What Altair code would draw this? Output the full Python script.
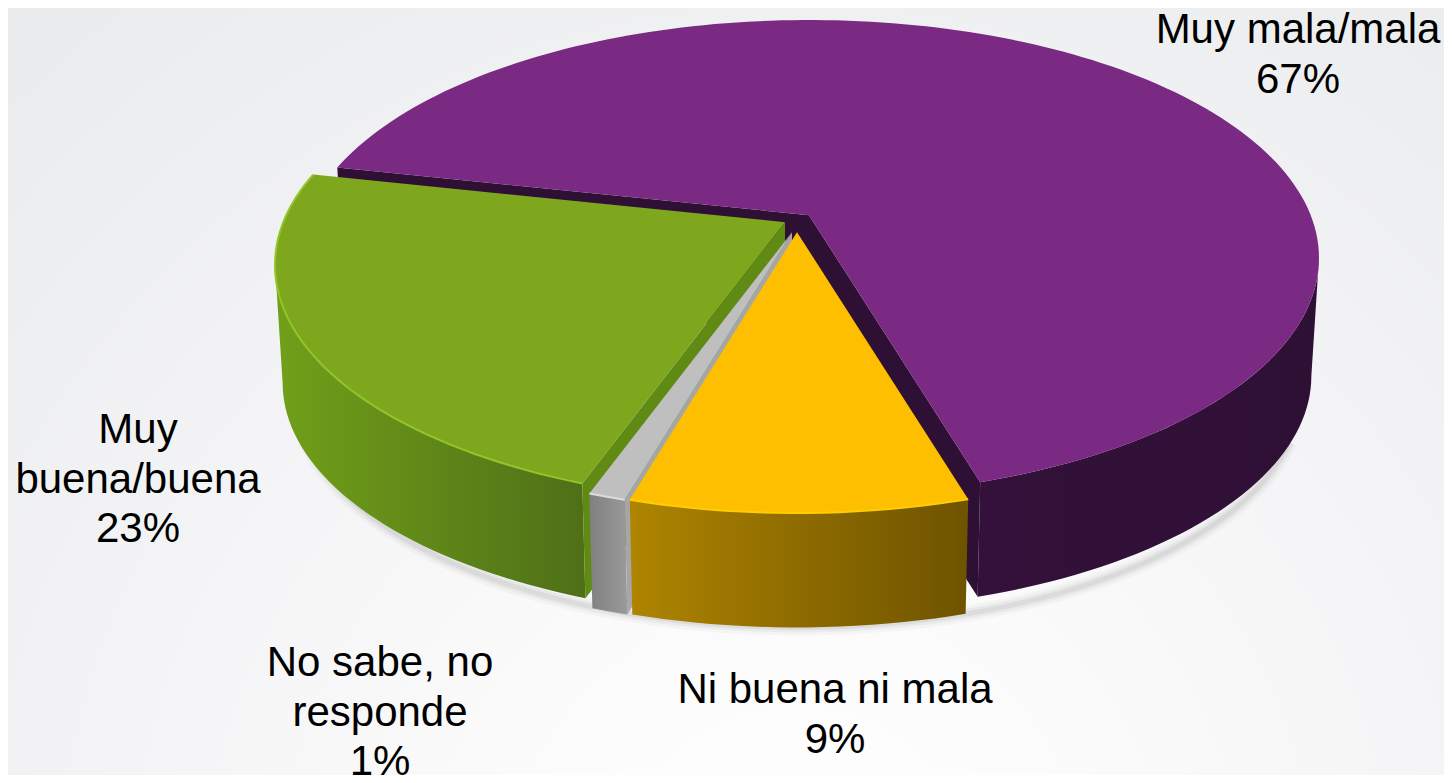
import math
import altair as alt

# ---- data ----
categories = ["Muy mala/mala", "Ni buena ni mala", "No sabe, no responde", "Muy buena/buena"]
shares = [67, 9, 1, 23]
label_texts = ["Muy mala/mala", "Ni buena ni mala", "No sabe, no\nresponde", "Muy\nbuena/buena"]

# ---- styles and geometry ----
W, H = 1436, 767
A, B = 510.0, 238.0           # semi axes of the top rim
CX, CY = 808.0 - 8, 258.0 - 8
K = 0.18                      # perspective shift of the pie centre
DROP = 118.0                  # pie thickness
BOTTOM = 0.985                # bottom rim is slightly smaller
START = 282.4                 # clock angle of the first slice
SILHOUETTE = math.degrees(math.asin(K))

style = {
    "Muy mala/mala": dict(off=(1, 0), top="#7b2a83", cut="#2f1035",
                          wall=("#33113a", "#2f1035"), rim=None, cuts="both",
                          label=(1298, 30)),
    "Ni buena ni mala": dict(off=(-11, 17), top="#fdbf00", cut="#a87f00",
                             wall=("#ae8400", "#6e5300"), rim="#ffcd00", cuts="none",
                             label=(835, 690)),
    "No sabe, no responde": dict(off=(-16, 17), top="#bfbfbf", cut="#a6a6a6",
                                 wall=("#808080", "#9a9a9a"), rim="#dcdcdc", cuts="start",
                                 label=(380, 663)),
    "Muy buena/buena": dict(off=(-23, 7), top="#7ea71e", cut="#5f8a14",
                            wall=("#71a019", "#4f6f18"), rim="#93c52a", cuts="start",
                            label=(138, 430)),
}
draw_order = ["Muy mala/mala", "Muy buena/buena", "No sabe, no responde", "Ni buena ni mala"]


def disc_point(clock):
    """Point of the unit circle seen in perspective, clock angle in degrees."""
    t = math.radians(clock)
    X, Y = math.sin(t), -math.cos(t)
    den = 1 - K * Y
    return X * math.sqrt(1 - K * K) / den, (Y - K) / den


def to_unit(u, v, off, scale=1.0, drop=0.0):
    return [(u * A * scale + off[0]) / A, (v * B * scale + off[1] + drop) / A]


def arc(a0, a1, off, scale=1.0, drop=0.0):
    n = max(2, int(abs(a1 - a0) / 1.5))
    return [to_unit(*disc_point(a0 + (a1 - a0) * i / n), off, scale, drop) for i in range(n + 1)]


def apex(off, scale=1.0, drop=0.0):
    return to_unit(0.0, -K, off, scale, drop)


def front_range(a0, a1):
    """Part of the rim that faces the viewer: between the two silhouette points."""
    lo, hi = 90 + SILHOUETTE, 270 - SILHOUETTE
    shift = 360 if a0 > hi else 0
    return max(a0, lo + shift), min(a1, hi + shift)


def feature(kind, coords):
    return {"type": "Feature", "properties": {}, "geometry": {"type": kind, "coordinates": coords}}


def shape(feat, **mark):
    return (alt.Chart(alt.InlineData(values=[feat])).mark_geoshape(**mark)
            .project(type="identity", scale=A, translate=[CX, CY]))


def polygon(ring):
    return feature("Polygon", [ring + [ring[0]]])


def linear(c0, c1):
    return alt.Gradient(gradient="linear", x1=0, x2=1, y1=0, y2=0,
                        stops=[alt.GradientStop(color=c0, offset=0), alt.GradientStop(color=c1, offset=1)])


# slice angles come from the shares, clockwise from START
angles = {}
a = START
for c, s in zip(categories, shares):
    angles[c] = (a, a + s * 3.6)
    a += s * 3.6

layers = []

# backdrop
layers.append(
    alt.Chart(alt.InlineData(values=[{"a": 1}])).mark_rect(
        fill=alt.Gradient(gradient="radial", x1=0.55, y1=0.85, x2=0.55, y2=0.85, r1=0, r2=0.85,
                          stops=[alt.GradientStop(color="#ffffff", offset=0),
                                 alt.GradientStop(color="#fbfbfc", offset=0.25),
                                 alt.GradientStop(color="#e9eaec", offset=1)])
    ).encode(x=alt.value(0), x2=alt.value(W), y=alt.value(0), y2=alt.value(H))
)

# soft shadow under the front rim
for width, op in [(16, 0.04), (10, 0.06), (5, 0.09)]:
    layers.append(shape(feature("LineString", arc(112, 250, (-10, 16), BOTTOM, DROP + 1)),
                        filled=False, stroke="#555555", strokeWidth=width, strokeOpacity=op))

for c in draw_order:
    st = style[c]
    a0, a1 = angles[c]
    off = st["off"]
    top_arc = arc(a0, a1, off)
    # outer wall, running out to the silhouette of the drum
    f0, f1 = front_range(a0, a1)
    layers.append(shape(polygon(arc(f0, f1, off) + arc(f0, f1, off, BOTTOM, DROP)[::-1]),
                        fill=linear(*st["wall"])))
    # cut faces
    for which, flag in ((a0, "start"), (a1, "end")):
        if st["cuts"] in (flag, "both"):
            ring = [apex(off), arc(which, which, off)[0], arc(which, which, off, BOTTOM, DROP)[0],
                    apex(off, BOTTOM, DROP)]
            layers.append(shape(polygon(ring), fill=st["cut"]))
    # top face
    layers.append(shape(polygon([apex(off)] + top_arc), fill=st["top"]))
    # bright edge of the bevel
    if st["rim"]:
        layers.append(shape(feature("LineString", top_arc), filled=False,
                            stroke=st["rim"], strokeWidth=2))

# labels
for c, s, t in zip(categories, shares, label_texts):
    lx, ly = style[c]["label"]
    layers.append(
        alt.Chart(alt.InlineData(values=[{"t": f"{t}\n{s}%"}])).mark_text(
            font="Liberation Sans", fontSize=42, color="#000000", align="center",
            baseline="middle", lineBreak="\n", lineHeight=49.5
        ).encode(text="t:N", x=alt.value(lx - 8), y=alt.value(ly - 8))
    )

chart = alt.layer(*layers).properties(width=W, height=H, padding=0).configure_view(stroke=None)
chart.save("out.html", embed_options={"renderer": "svg", "actions": False})
